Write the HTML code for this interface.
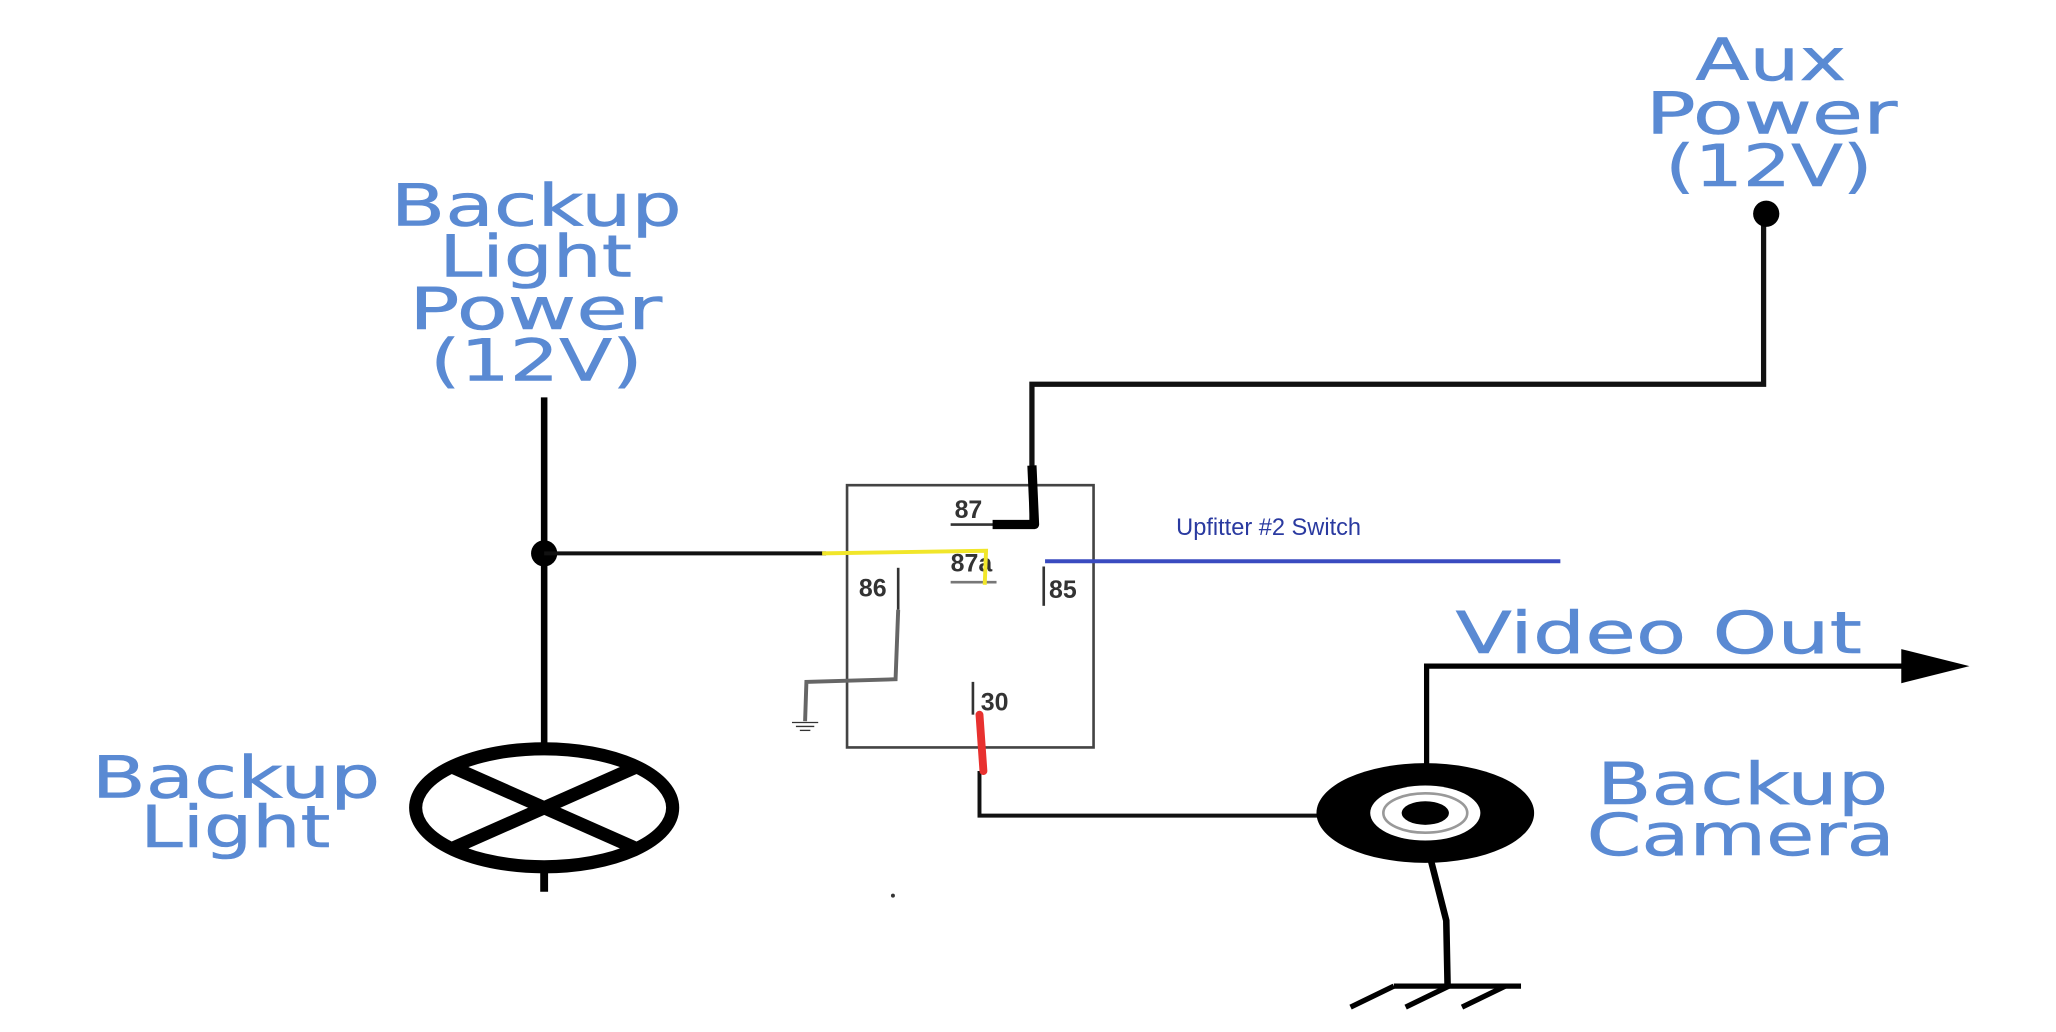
<!DOCTYPE html>
<html><head><meta charset="utf-8"><style>
html,body{margin:0;padding:0;background:#fff;}
svg{display:block;}
.t{font-family:"DejaVu Sans","Liberation Sans",sans-serif;fill:#5a8ad3;font-size:44px;stroke:#5a8ad3;stroke-width:0.4px;}
.n{font-family:"Liberation Sans",sans-serif;font-size:19px;fill:#333;font-weight:bold;}
</style></head><body>
<svg width="2056" height="1032" viewBox="0 0 1568 787" preserveAspectRatio="none" xmlns="http://www.w3.org/2000/svg">
<rect width="1568" height="787" fill="#fff"/>
<text class="t" x="298" y="172" textLength="222" lengthAdjust="spacingAndGlyphs">Backup</text>
<text class="t" x="335" y="211" textLength="147" lengthAdjust="spacingAndGlyphs">Light</text>
<text class="t" x="312" y="251" textLength="193" lengthAdjust="spacingAndGlyphs">Power</text>
<text class="t" x="328" y="290" textLength="162" lengthAdjust="spacingAndGlyphs">(12V)</text>
<text class="t" x="1293" y="61" textLength="115" lengthAdjust="spacingAndGlyphs">Aux</text>
<text class="t" x="1255" y="102" textLength="192" lengthAdjust="spacingAndGlyphs">Power</text>
<text class="t" x="1270" y="142" textLength="158" lengthAdjust="spacingAndGlyphs">(12V)</text>
<text class="t" x="70" y="608" textLength="220" lengthAdjust="spacingAndGlyphs">Backup</text>
<text class="t" x="107" y="646" textLength="145" lengthAdjust="spacingAndGlyphs">Light</text>
<text class="t" x="1218" y="613" textLength="222" lengthAdjust="spacingAndGlyphs">Backup</text>
<text class="t" x="1210" y="652" textLength="235" lengthAdjust="spacingAndGlyphs">Camera</text>
<text class="t" x="1110" y="498" textLength="310" lengthAdjust="spacingAndGlyphs">Video Out</text>
<text x="897" y="408" font-family="Liberation Sans,sans-serif" font-size="18" fill="#2a3aa0">Upfitter #2 Switch</text>
<line x1="415" y1="303" x2="415" y2="575" stroke="#000" stroke-width="5"/>
<circle cx="415" cy="422" r="10" fill="#000"/>
<line x1="415" y1="422" x2="630" y2="422" stroke="#111" stroke-width="3"/>
<ellipse cx="415" cy="616" rx="98" ry="45" fill="none" stroke="#000" stroke-width="10"/>
<line x1="345" y1="585" x2="485" y2="647" stroke="#000" stroke-width="10"/>
<line x1="345" y1="647" x2="485" y2="585" stroke="#000" stroke-width="10"/>
<line x1="415" y1="660" x2="415" y2="680" stroke="#000" stroke-width="6"/>
<rect x="646" y="370" width="188" height="200" fill="none" stroke="#444" stroke-width="2"/>
<text class="n" x="728" y="395">87</text>
<line x1="725" y1="400" x2="760" y2="400" stroke="#333" stroke-width="2"/>
<text class="n" x="725" y="436">87a</text>
<line x1="725" y1="444" x2="760" y2="444" stroke="#777" stroke-width="2"/>
<text class="n" x="655" y="455">86</text>
<line x1="685" y1="433" x2="685" y2="465" stroke="#333" stroke-width="2"/>
<text class="n" x="800" y="456">85</text>
<line x1="796" y1="432" x2="796" y2="462" stroke="#333" stroke-width="2"/>
<text class="n" x="748" y="542">30</text>
<line x1="742" y1="520" x2="742" y2="545" stroke="#333" stroke-width="2"/>
<polyline points="787,400 787,293 1345,293 1345,163" fill="none" stroke="#111" stroke-width="4"/>
<polyline points="787,355 789,400 757,400" fill="none" stroke="#000" stroke-width="7" stroke-linejoin="round"/>
<circle cx="1347" cy="163" r="10" fill="#000"/>
<polyline points="627,422 752,420 751,446" fill="none" stroke="#f1e62a" stroke-width="3"/>
<line x1="797" y1="428" x2="1190" y2="428" stroke="#3a4bc0" stroke-width="3"/>
<polyline points="685,465 683,518 615,520 614,550" fill="none" stroke="#666" stroke-width="3"/>
<line x1="604" y1="551" x2="624" y2="551" stroke="#333" stroke-width="1"/>
<line x1="607" y1="554" x2="621" y2="554" stroke="#333" stroke-width="1"/>
<line x1="610" y1="557" x2="618" y2="557" stroke="#333" stroke-width="1"/>
<polyline points="747,588 747,622 1005,622" fill="none" stroke="#111" stroke-width="3"/>
<line x1="747" y1="545" x2="750" y2="588" stroke="#e8312f" stroke-width="6" stroke-linecap="round"/>
<polyline points="1088,585 1088,508 1455,508" fill="none" stroke="#000" stroke-width="4"/>
<polygon points="1450,495 1502,508 1450,521" fill="#000"/>
<ellipse cx="1087" cy="620" rx="83" ry="38" fill="#000"/>
<ellipse cx="1087" cy="620" rx="42" ry="21" fill="#fff"/>
<ellipse cx="1087" cy="620" rx="32" ry="15" fill="none" stroke="#999" stroke-width="2"/>
<ellipse cx="1087" cy="620" rx="18" ry="9" fill="#000"/>
<polyline points="1091,655 1103,702 1104,752" fill="none" stroke="#000" stroke-width="5"/>
<line x1="1063" y1="752" x2="1160" y2="752" stroke="#000" stroke-width="4"/>
<line x1="1063" y1="752" x2="1030" y2="768" stroke="#000" stroke-width="4"/>
<line x1="1105" y1="752" x2="1072" y2="768" stroke="#000" stroke-width="4"/>
<line x1="1148" y1="752" x2="1115" y2="768" stroke="#000" stroke-width="4"/>
<circle cx="681" cy="683" r="1.5" fill="#333"/>
</svg>
</body></html>
